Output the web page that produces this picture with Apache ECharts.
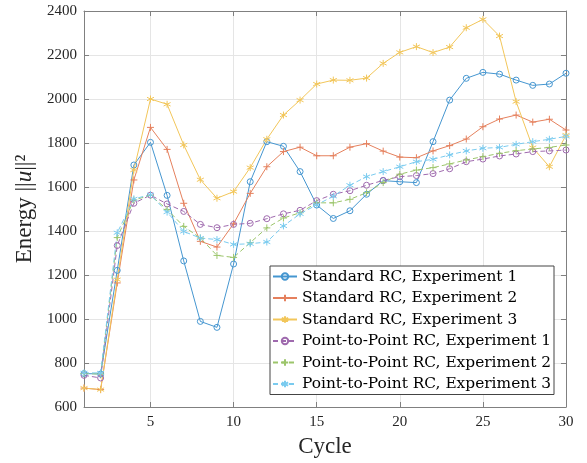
<!DOCTYPE html>
<html><head><meta charset="utf-8">
<script src="https://cdn.jsdelivr.net/npm/echarts@6/dist/echarts.min.js"></script>
<style>html,body{margin:0;padding:0;background:#fff}#c{width:587px;height:463px}</style>
</head><body><div id="c"></div>
<script>
const cycles = [1,2,3,4,5,6,7,8,9,10,11,12,13,14,15,16,17,18,19,20,21,22,23,24,25,26,27,28,29,30];
const xTicks = [5,10,15,20,25,30];
const stdExp1 = [752,750,1221,1700,1803,1562,1264,989,962,1250,1624,1806,1785,1670,1518,1457,1492,1567,1629,1624,1620,1806,1995,2094,2121,2113,2086,2062,2068,2117];
const stdExp2 = [686,679,1164,1632,1871,1771,1526,1353,1327,1433,1571,1692,1761,1781,1742,1742,1781,1797,1763,1736,1733,1764,1788,1818,1874,1909,1927,1895,1908,1859];
const stdExp3 = [686,679,1179,1677,2000,1976,1791,1633,1549,1579,1688,1817,1927,1995,2068,2086,2085,2095,2162,2212,2238,2211,2236,2324,2362,2286,1988,1779,1692,1836];
const p2pExp1 = [744,732,1334,1526,1563,1523,1489,1430,1415,1430,1435,1456,1478,1494,1538,1567,1583,1608,1630,1647,1652,1661,1683,1715,1727,1741,1750,1761,1764,1768];
const p2pExp2 = [752,750,1370,1541,1562,1498,1421,1368,1289,1280,1347,1414,1459,1483,1528,1528,1544,1574,1620,1658,1677,1688,1705,1723,1738,1753,1765,1773,1780,1791];
const p2pExp3 = [755,755,1392,1546,1565,1486,1398,1368,1361,1339,1342,1350,1423,1478,1519,1558,1608,1647,1670,1692,1715,1726,1746,1764,1776,1780,1794,1806,1817,1830];
const names = ['Standard RC, Experiment 1','Standard RC, Experiment 2','Standard RC, Experiment 3','Point-to-Point RC, Experiment 1','Point-to-Point RC, Experiment 2','Point-to-Point RC, Experiment 3'];

const colors = ['#4596d0','#e5805d','#f2c65a','#9f6aae','#9cc56b','#7acbef'];
const SYM_O = 'circle';
const SYM_PLUS = 'path://M5,0L5,10M0,5L10,5';
const SYM_STAR = 'path://M5,0L5,10M0.67,2.5L9.33,7.5M0.67,7.5L9.33,2.5';
const allData = [stdExp1,stdExp2,stdExp3,p2pExp1,p2pExp2,p2pExp3];
const syms = [SYM_O,SYM_PLUS,SYM_STAR,SYM_O,SYM_PLUS,SYM_STAR];
const FONT = 'Liberation Serif';
const LFONT = 'DejaVu Serif';

const series = allData.map((d,i)=>({
  name: names[i],
  type: 'line',
  data: cycles.map((c,k)=>[c,d[k]]),
  symbol: syms[i],
  symbolSize: i%3===0 ? 6 : 7,
  showSymbol: true,
  color: colors[i],
  lineStyle: {color: colors[i], width: 1, type: i>=3 ? [5,3] : 'solid'},
  itemStyle: {color: 'rgba(255,255,255,0)', borderColor: colors[i], borderWidth: 1},
  emphasis: {disabled: true},
  animation: false,
  z: 3
}));

const chart = echarts.init(document.getElementById('c'));
chart.setOption({
  animation: false,
  grid: {left: 84, right: 21, top: 11, bottom: 56},
  xAxis: [{
    type: 'value', min: 1, max: 30,
    name: 'Cycle', nameLocation: 'middle', nameGap: 28,
    nameTextStyle: {fontFamily: FONT, fontSize: 23, color: '#262626'},
    axisLine: {show: true, lineStyle: {color: '#808080'}},
    axisTick: {show: true, inside: true, length: 5, customValues: xTicks, lineStyle: {color: '#808080'}},
    axisLabel: {customValues: xTicks, fontFamily: FONT, fontSize: 15, color: '#262626', margin: 8},
    splitLine: {show: true, lineStyle: {color: '#e5e5e5'}}
  },{
    type: 'value', min: 1, max: 30, position: 'top',
    axisLine: {show: true, lineStyle: {color: '#808080'}},
    axisTick: {show: true, inside: true, length: 5, customValues: xTicks, lineStyle: {color: '#808080'}},
    axisLabel: {show: false, customValues: xTicks},
    splitLine: {show: false}
  }],
  yAxis: [{
    type: 'value', min: 600, max: 2400, interval: 200,
    name: 'Energy ||{i|u}||²', nameLocation: 'middle', nameGap: 37,
    nameTextStyle: {fontFamily: FONT, fontSize: 23, color: '#262626', rich: {i: {fontFamily: FONT, fontStyle: 'italic', fontSize: 23, color: '#262626'}}},
    axisLine: {show: true, lineStyle: {color: '#808080'}},
    axisTick: {show: true, inside: true, length: 5, lineStyle: {color: '#808080'}},
    axisLabel: {fontFamily: FONT, fontSize: 15, color: '#262626', margin: 7, formatter: v => String(v)},
    splitLine: {show: true, lineStyle: {color: '#e5e5e5'}}
  },{
    type: 'value', min: 600, max: 2400, interval: 200, position: 'right',
    axisLine: {show: true, lineStyle: {color: '#808080'}},
    axisTick: {show: true, inside: true, length: 5, lineStyle: {color: '#808080'}},
    axisLabel: {show: false},
    splitLine: {show: false}
  }],
  legend: {
    orient: 'vertical', left: 270, top: 266,
    itemWidth: 24, itemHeight: 8, itemGap: 6.5,
    backgroundColor: '#fff', borderColor: '#444', borderWidth: 1,
    padding: [3, 3, 3, 2],
    textStyle: {fontFamily: LFONT, fontSize: 15.4, color: '#000'},
    data: names
  },
  series: series
});
</script></body></html>
